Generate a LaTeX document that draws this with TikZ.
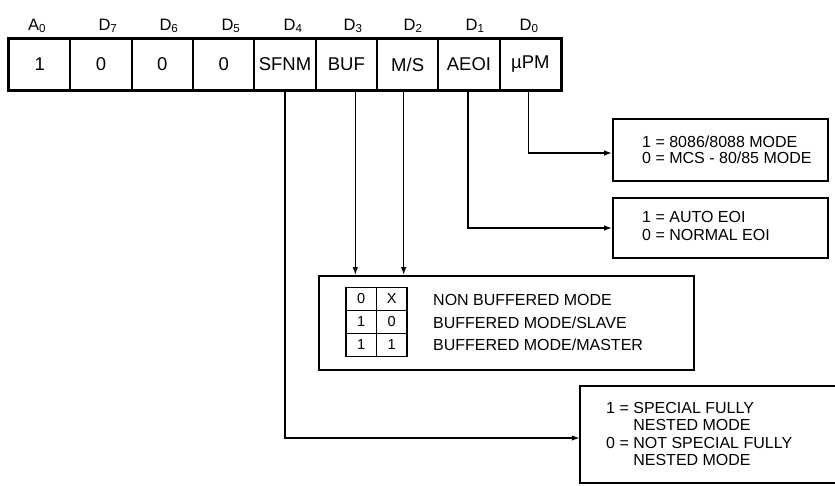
\documentclass[tikz,border=0pt]{standalone}
\usepackage{fontspec}
\setmainfont{Liberation Sans}
\usetikzlibrary{arrows.meta,calc}
\begin{document}
\begin{tikzpicture}[x=1pt,y=-1pt,
  cell/.style={draw, line width=2pt, minimum width=61.33pt, minimum height=51pt, inner sep=0pt, font=\fontsize{18.5}{18.5}\selectfont},
  bitlbl/.style={anchor=base, inner sep=0pt, font=\fontsize{16.5}{16.5}\selectfont},
  box/.style={draw, line width=1.8pt, inner sep=0pt},
  boxtxt/.style={anchor=west, align=left, inner sep=0pt, font=\fontsize{16}{16}\selectfont},
  conn/.style={line width=1.4pt, -{Latex[length=8pt,width=5.5pt]}},
  tcell/.style={draw, line width=1.4pt, minimum width=30.5pt, minimum height=23pt, inner sep=0pt, font=\fontsize{14.5}{14.5}\selectfont}]
\useasboundingbox (0,0) rectangle (835,485);
% register
\node[cell] (c0) at (39.67,64.5) {1};
\node[cell] (c1) at (101,64.5) {0};
\node[cell] (c2) at (162.33,64.5) {0};
\node[cell] (c3) at (223.67,64.5) {0};
\node[cell] (c4) at (285,64.5) {SFNM};
\node[cell] (c5) at (346.33,64.5) {BUF};
\node[cell] (c6) at (407.67,64.5) {M/S};
\node[cell] (c7) at (469,64.5) {AEOI};
\node[cell] (c8) at (530.33,64.5) {µPM};
\draw[line width=2.6pt] (c0.north west) rectangle (c8.south east);
% bit labels
\node[bitlbl] (l0) at (37,30) {A\textsubscript{0}};
\node[bitlbl] (l1) at (108,30) {D\textsubscript{7}};
\node[bitlbl] (l2) at (169,30) {D\textsubscript{6}};
\node[bitlbl] (l3) at (231,30) {D\textsubscript{5}};
\node[bitlbl] (l4) at (293,30) {D\textsubscript{4}};
\node[bitlbl] (l5) at (353,30) {D\textsubscript{3}};
\node[bitlbl] (l6) at (413,30) {D\textsubscript{2}};
\node[bitlbl] (l7) at (475,30) {D\textsubscript{1}};
\node[bitlbl] (l8) at (529,30) {D\textsubscript{0}};
% boxes
\node[box, minimum width=215pt, minimum height=62pt] (b1) at (720.5,150) {};
\node[boxtxt, font=\fontsize{16}{16.5}\selectfont] (t1) at (642,150) {1 = 8086/8088 MODE\\0 = MCS - 80/85 MODE};
\node[box, minimum width=215pt, minimum height=60pt] (b2) at (720.5,228) {};
\node[boxtxt, font=\fontsize{16}{18}\selectfont] (t2) at (642,226) {1 = AUTO EOI\\0 = NORMAL EOI};
\node[box, minimum width=375pt, minimum height=94pt] (b3) at (506.5,323) {};
% inner table
\node[tcell] (t11) at (361.25,299) {0};
\node[tcell] (t12) at (391.75,299) {X};
\node[tcell] (t21) at (361.25,322) {1};
\node[tcell] (t22) at (391.75,322) {0};
\node[tcell] (t31) at (361.25,345) {1};
\node[tcell] (t32) at (391.75,345) {1};
\node[boxtxt] (r1) at (433,300) {NON BUFFERED MODE};
\node[boxtxt] (r2) at (433,323) {BUFFERED MODE/SLAVE};
\node[boxtxt] (r3) at (433,345) {BUFFERED MODE/MASTER};
% box 4 (runs off the right edge: no right side drawn)
\node[inner sep=0pt, minimum width=300pt, minimum height=97pt] (b4) at (730,434.5) {};
\draw[line width=1.8pt] (b4.north east) -- (b4.north west) -- (b4.south west) -- (b4.south east);
\node[boxtxt, font=\fontsize{16}{17.3}\selectfont] (t4) at (606,434) {1 = SPECIAL FULLY\\\hphantom{1 = }NESTED MODE\\0 = NOT SPECIAL FULLY\\\hphantom{0 = }NESTED MODE};
% connectors
\draw[conn] ([xshift=-2pt]c8.south) |- ([yshift=-3pt]b1.west);
\draw[conn] ([xshift=-1pt]c7.south) |- (b2.west);
\draw[conn] ([xshift=9pt]c5.south) -- ([xshift=9pt]c5.south |- b3.north);
\draw[conn] ([xshift=-4pt]c6.south) -- ([xshift=-4pt]c6.south |- b3.north);
\draw[conn] (c4.south) |- ([yshift=-3.5pt]b4.west);
\end{tikzpicture}
\end{document}
